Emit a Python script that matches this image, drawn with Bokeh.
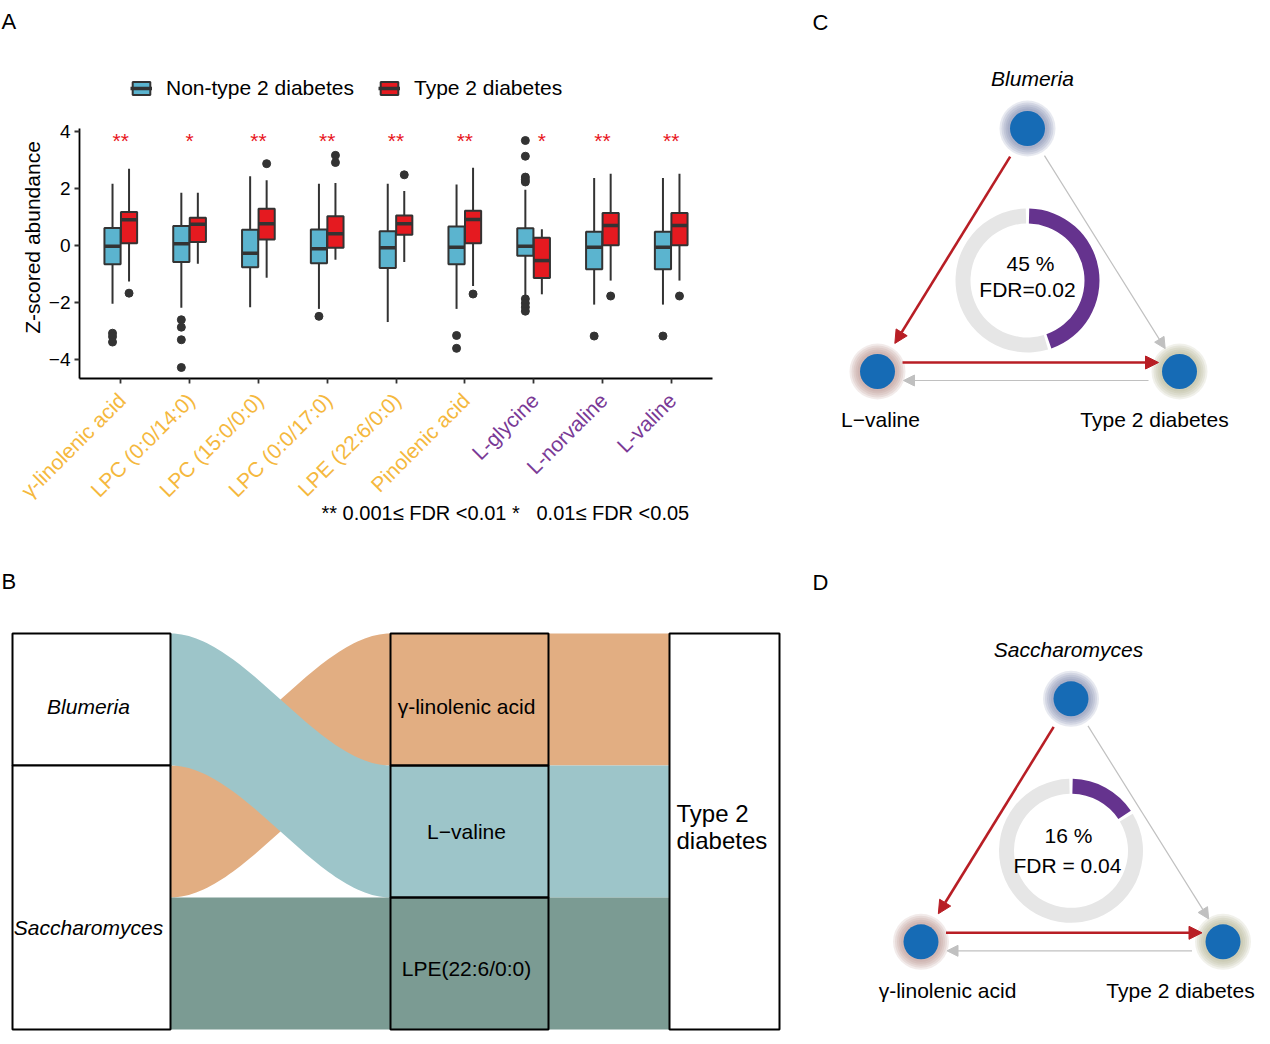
import math
from bokeh.plotting import figure
from bokeh.models import (Range1d, FixedTicker, Label, LabelSet, ColumnDataSource,
                          Legend, LegendItem, Arrow, NormalHead, LinearAxis)
from bokeh.layouts import row, column
from bokeh.embed import file_html
from bokeh.resources import INLINE
from bokeh.core.properties import value

FONT = "Liberation Sans"

# ---------------- Panel A data ----------------
metabolites = ["γ-linolenic acid", "LPC (0:0/14:0)", "LPC (15:0/0:0)", "LPC (0:0/17:0)",
               "LPE (22:6/0:0)", "Pinolenic acid", "L-glycine", "L-norvaline", "L-valine"]
metabolite_class = ["lipid"] * 6 + ["amino acid"] * 3
stars = ["**", "*", "**", "**", "**", "**", "*", "**", "**"]

non_lo  = [-2.04, -2.18, -2.16, -2.22, -2.68, -2.22, -1.81, -2.07, -2.07]
non_q1  = [-0.66, -0.58, -0.76, -0.62, -0.79, -0.66, -0.36, -0.83, -0.83]
non_med = [-0.03,  0.06, -0.27, -0.12, -0.08, -0.06, -0.03, -0.06, -0.06]
non_q3  = [ 0.61,  0.68,  0.55,  0.56,  0.50,  0.66,  0.60,  0.48,  0.48]
non_hi  = [ 2.16,  1.84,  2.42,  2.16,  2.16,  2.13,  1.95,  2.36,  2.36]

t2d_lo  = [-1.26, -0.64, -1.13, -0.50, -0.58, -1.42, -1.71, -1.23, -1.23]
t2d_q1  = [ 0.08,  0.12,  0.21, -0.08,  0.37,  0.08, -1.14,  0.01,  0.01]
t2d_med = [ 0.90,  0.74,  0.76,  0.41,  0.76,  0.91, -0.53,  0.70,  0.70]
t2d_q3  = [ 1.17,  0.97,  1.28,  1.02,  1.05,  1.21,  0.27,  1.13,  1.13]
t2d_hi  = [ 2.68,  1.84,  2.28,  2.18,  1.90,  2.72,  0.57,  2.51,  2.51]

non_out_cat = [1, 1, 1, 2, 2, 2, 2, 4, 6, 6, 7, 7, 7, 7, 7, 7, 7, 7, 7, 8, 9]
non_out_val = [-3.07, -3.19, -3.38, -2.60, -2.86, -3.30, -4.27, -2.48, -3.15, -3.60,
               3.67, 3.12, 2.39, 2.30, 2.22, -1.87, -2.02, -2.16, -2.30, -3.17, -3.17]
t2d_out_cat = [1, 3, 4, 4, 5, 6, 8, 9]
t2d_out_val = [-1.67, 2.86, 3.15, 2.90, 2.47, -1.70, -1.77, -1.77]

groups = ["Non-type 2 diabetes", "Type 2 diabetes"]
y_ticks = [-4, -2, 0, 2, 4]
fdr_note = "**\u00a00.001≤ FDR <0.01 *\u00a0\u00a0\u00a00.01≤ FDR <0.05"

# ---------------- Panel B data ----------------
taxa = ["Blumeria", "Saccharomyces"]
mets_b = ["γ-linolenic acid", "L−valine", "LPE(22:6/0:0)"]
flow_src = ["Saccharomyces", "Blumeria", "Saccharomyces"]
flow_dst = ["γ-linolenic acid", "L−valine", "LPE(22:6/0:0)"]
flow_val = [1, 1, 1]
outcome_b = ["Type 2", "diabetes"]

# ---------------- Panels C / D data ----------------
c_nodes = ["Blumeria", "L−valine", "Type 2 diabetes"]
c_mediation = 0.45
c_texts = ["45 %", "FDR=0.02"]
d_nodes = ["Saccharomyces", "γ-linolenic acid", "Type 2 diabetes"]
d_mediation = 0.16
d_texts = ["16 %", "FDR = 0.04"]

# ---------------- styles ----------------
BLUE = "#5BB4CF"
RED = "#E51A20"
DARK = "#333333"
STAR_RED = "#E8161E"
LIPID_COL = "#F5B83D"
AMINO_COL = "#7A3A96"
FLOW_COL = {"γ-linolenic acid": "#E2AE82", "L−valine": "#9DC5C9", "LPE(22:6/0:0)": "#7B9B93"}
NODE_BLUE = "#166BB5"
ARROW_RED = "#B81E25"
ARROW_GRAY = "#C0C0C0"
RING_GRAY = "#E6E6E6"
RING_PURPLE = "#65338E"


def clean(p):
    p.outline_line_color = None
    p.background_fill_color = "white"
    p.border_fill_color = "white"


# =============== Panel A ===============
XR = (0.4, 9.6)
YR = (-4.655, 4.09)
PX0, PY0 = 79, 128            # page px of the (XR[0], YR[1]) corner
SX = 633 / (XR[1] - XR[0])   # px per unit
SY = 250 / (YR[1] - YR[0])
WA, HA = 808, 568


def ax(px):
    return XR[0] + (px - PX0) / SX


def ay(py):
    return YR[1] - (py - PY0) / SY


pA = figure(width=WA, height=HA, x_range=Range1d(ax(0), ax(WA)), y_range=Range1d(ay(HA), ay(0)),
            output_backend="svg", toolbar_location=None, min_border=0,
            x_axis_location=None, y_axis_location=None, frame_align=False)
clean(pA)
pA.xgrid.visible = False
pA.ygrid.visible = False

cats = list(range(1, len(metabolites) + 1))
xaxis = LinearAxis(fixed_location=YR[0], bounds=XR, ticker=FixedTicker(ticks=cats),
                   major_label_overrides={c: "" for c in cats})
yaxis = LinearAxis(fixed_location=XR[0], bounds=YR, ticker=FixedTicker(ticks=y_ticks),
                   major_label_overrides={t: (str(t).replace("-", "−")) for t in y_ticks})
for a in (xaxis, yaxis):
    a.axis_line_width = 1.8
    a.axis_line_color = "black"
    a.major_tick_line_width = 1.8
    a.major_tick_line_color = DARK
    a.major_tick_out = 5
    a.major_tick_in = 0
    a.minor_tick_line_color = None
    a.major_label_text_font = FONT
    a.major_label_text_font_size = "19px"
    a.major_label_text_color = "black"
    a.major_label_standoff = 4
pA.add_layout(xaxis, "below")
pA.add_layout(yaxis, "left")

BW = 0.235
DODGE = 0.12
box_renderers = []
for gi, (lo, q1, med, q3, hi, fill) in enumerate([
        (non_lo, non_q1, non_med, non_q3, non_hi, BLUE),
        (t2d_lo, t2d_q1, t2d_med, t2d_q3, t2d_hi, RED)]):
    xs = [c + (DODGE if gi else -DODGE) for c in cats]
    src = ColumnDataSource(dict(x=xs, lo=lo, q1=q1, med=med, q3=q3, hi=hi,
                                xl=[x - BW / 2 for x in xs], xr=[x + BW / 2 for x in xs]))
    pA.segment(x0="x", y0="q3", x1="x", y1="hi", source=src, line_color=DARK, line_width=2)
    pA.segment(x0="x", y0="q1", x1="x", y1="lo", source=src, line_color=DARK, line_width=2)
    rb = pA.vbar(x="x", bottom="q1", top="q3", width=BW, source=src,
                 fill_color=fill, line_color=DARK, line_width=2)
    rm = pA.segment(x0="xl", y0="med", x1="xr", y1="med", source=src,
                    line_color=DARK, line_width=3.5)
    box_renderers.append([rb, rm])

pA.scatter(x=[c - DODGE for c in non_out_cat], y=non_out_val, size=8, color=DARK)
pA.scatter(x=[c + DODGE for c in t2d_out_cat], y=t2d_out_val, size=8, color=DARK)

star_x = [c + (DODGE if s == "*" and metabolite_class[c - 1] == "amino acid" else 0)
          for c, s in zip(cats, stars)]
pA.text(x=star_x, y=[3.66] * len(cats), text=stars, text_color=STAR_RED,
        text_font=value(FONT), text_font_size="21px", text_align="center", text_baseline="middle")

lab_src = ColumnDataSource(dict(
    x=[c - 0.1 for c in cats], y=[ay(388)] * len(cats), text=metabolites,
    lab_color=[LIPID_COL if k == "lipid" else AMINO_COL for k in metabolite_class]))
pA.add_layout(LabelSet(x="x", y="y", text="text", source=lab_src, angle=math.pi / 4,
                       text_align="right", text_baseline="top", text_color="lab_color",
                       text_font=value(FONT), text_font_size=value("21px")))

pA.add_layout(Label(x=ax(32), y=ay(237), text="Z-scored abundance", angle=math.pi / 2,
                    text_align="center", text_baseline="middle", text_font=FONT,
                    text_font_size="21px", text_color="black"))
pA.add_layout(Label(x=ax(321), y=ay(512), text=fdr_note, text_align="left",
                    text_baseline="middle", text_font=FONT, text_font_size="20px",
                    text_color="black"))
pA.add_layout(Label(x=ax(1), y=ay(21), text="A", text_align="left", text_baseline="middle",
                    text_font=FONT, text_font_size="22px", text_color="black"))

legend = Legend(items=[LegendItem(label=groups[0], renderers=box_renderers[0]),
                       LegendItem(label=groups[1], renderers=box_renderers[1])],
                orientation="horizontal", location=(130, HA - 100), padding=0, margin=0,
                spacing=24, label_standoff=14, glyph_width=22, glyph_height=16,
                label_height=24, label_text_font=FONT, label_text_font_size="21px",
                label_text_color="black",
                label_text_baseline="middle", border_line_color=None,
                background_fill_alpha=0)
pA.add_layout(legend, "center")

# =============== Panel B ===============
WB, HB = 808, 476
pB = figure(width=WB, height=HB, x_range=Range1d(0, WB), y_range=Range1d(0, HB),
            output_backend="svg", toolbar_location=None, min_border=0, frame_align=False)
clean(pB)
pB.axis.visible = False
pB.grid.visible = False

TOP, UNIT = 411, 132
LX = (12, 170)
MX = (390, 548)
RX = (669, 779)

left_tot = {t: sum(v for s, v in zip(flow_src, flow_val) if s == t) for t in taxa}
mid_tot = {m: sum(v for d, v in zip(flow_dst, flow_val) if d == m) for m in mets_b}
left_pos, cum = {}, 0
for t in taxa:
    left_pos[t] = (TOP - cum * UNIT, TOP - (cum + left_tot[t]) * UNIT)
    cum += left_tot[t]
mid_pos, cum = {}, 0
for m in mets_b:
    mid_pos[m] = (TOP - cum * UNIT, TOP - (cum + mid_tot[m]) * UNIT)
    cum += mid_tot[m]

order = sorted(range(len(flow_val)), key=lambda i: (taxa.index(flow_src[i]), mets_b.index(flow_dst[i])))
lcur = {t: left_pos[t][0] for t in taxa}
fl_left = {}
for i in order:
    a0 = lcur[flow_src[i]]
    fl_left[i] = (a0, a0 - flow_val[i] * UNIT)
    lcur[flow_src[i]] = a0 - flow_val[i] * UNIT
order_m = sorted(range(len(flow_val)), key=lambda i: (mets_b.index(flow_dst[i]), taxa.index(flow_src[i])))
mcur = {m: mid_pos[m][0] for m in mets_b}
fl_mid = {}
for i in order_m:
    b0 = mcur[flow_dst[i]]
    fl_mid[i] = (b0, b0 - flow_val[i] * UNIT)
    mcur[flow_dst[i]] = b0 - flow_val[i] * UNIT


def sig(t):
    return t * t * (3 - 2 * t)


N = 60
for i in range(len(flow_val)):
    (a0, a1), (b0, b1) = fl_left[i], fl_mid[i]
    ts = [k / N for k in range(N + 1)]
    xs = [LX[1] + (MX[0] - LX[1]) * t for t in ts]
    top_e = [a0 + (b0 - a0) * sig(t) for t in ts]
    bot_e = [a1 + (b1 - a1) * sig(t) for t in ts]
    pB.patch(xs + xs[::-1], top_e + bot_e[::-1], fill_color=FLOW_COL[flow_dst[i]],
             line_color=None)

for m in mets_b:
    y0, y1 = mid_pos[m]
    pB.quad(left=MX[0], right=RX[0], top=y0, bottom=y1, fill_color=FLOW_COL[m], line_color=None)

for t in taxa:
    y0, y1 = left_pos[t]
    pB.quad(left=LX[0], right=LX[1], top=y0, bottom=y1, fill_color="white",
            line_color="black", line_width=2)
for m in mets_b:
    y0, y1 = mid_pos[m]
    pB.quad(left=MX[0], right=MX[1], top=y0, bottom=y1, fill_alpha=0,
            line_color="black", line_width=2)
pB.quad(left=RX[0], right=RX[1], top=TOP, bottom=TOP - sum(flow_val) * UNIT,
        fill_color="white", line_color="black", line_width=2)

left_dy = [-7, -30]
mid_dy = [-7, 0, -5]
pB.text(x=[(LX[0] + LX[1]) / 2 - 3] * len(taxa),
        y=[(left_pos[t][0] + left_pos[t][1]) / 2 + d for t, d in zip(taxa, left_dy)],
        text=taxa, text_font=value(FONT), text_font_size="21px", text_font_style="italic",
        text_align="center", text_baseline="middle", text_color="black")
pB.text(x=[(MX[0] + MX[1]) / 2 - 3] * len(mets_b),
        y=[(mid_pos[m][0] + mid_pos[m][1]) / 2 + d for m, d in zip(mets_b, mid_dy)],
        text=mets_b, text_font=value(FONT), text_font_size="21px",
        text_align="center", text_baseline="middle", text_color="black")
pB.text(x=[RX[0] + 7] * 2, y=[231, 204], text=outcome_b, text_font=value(FONT),
        text_font_size="24px", text_align="left", text_baseline="middle", text_color="black")
pB.add_layout(Label(x=1, y=463, text="B", text_align="left", text_baseline="middle",
                    text_font=FONT, text_font_size="22px", text_color="black"))


# =============== Panels C / D ===============
def triad(W, H, letter, letter_xy, top, names, name_xy, frac, texts, text_xy):
    p = figure(width=W, height=H, x_range=Range1d(0, W), y_range=Range1d(0, H),
               output_backend="svg", toolbar_location=None, min_border=0, frame_align=False)
    clean(p)
    p.axis.visible = False
    p.grid.visible = False
    tx, ty = top
    nodes = [(tx, ty), (tx - 150, ty - 243), (tx + 152, ty - 243)]
    cx, cy = tx, ty - 152
    gap = 0.024
    p.annular_wedge(x=cx, y=cy, inner_radius=57, outer_radius=72,
                    start_angle=math.pi / 2 - 2 * math.pi * frac - gap,
                    end_angle=math.pi / 2 + gap, direction="clock",
                    fill_color=RING_GRAY, line_color=None)
    p.annular_wedge(x=cx, y=cy, inner_radius=57, outer_radius=72,
                    start_angle=math.pi / 2 - gap,
                    end_angle=math.pi / 2 - 2 * math.pi * frac + gap, direction="clock",
                    fill_color=RING_PURPLE, line_color=None)
    halos = ["#6E7FA8", "#B08680", "#ADAA86"]
    for (nx, ny), hc in zip(nodes, halos):
        for r in (28, 26, 24, 22, 20):
            p.circle(x=nx, y=ny, radius=r, fill_color=hc, fill_alpha=0.17, line_color=None)
        p.circle(x=nx, y=ny, radius=17.5, fill_color=NODE_BLUE, line_color=None)
    edges = [(0, 1, ARROW_RED, 2.6, 13, 33, 33, 0), (0, 2, ARROW_GRAY, 1.2, 11, 32, 27, 0),
             (1, 2, ARROW_RED, 2.6, 13, 25, 21, 9), (2, 1, ARROW_GRAY, 1.2, 11, 31, 26, 9)]
    for a, b, col, lw, hs, s0, s1, off in edges:
        (x0, y0), (x1, y1) = nodes[a], nodes[b]
        L = math.hypot(x1 - x0, y1 - y0)
        ux, uy = (x1 - x0) / L, (y1 - y0) / L
        nx_, ny_ = -uy, ux
        p.add_layout(Arrow(end=NormalHead(size=hs, fill_color=col, line_color=col),
                           x_start=x0 + ux * s0 + nx_ * off, y_start=y0 + uy * s0 + ny_ * off,
                           x_end=x1 - ux * s1 + nx_ * off, y_end=y1 - uy * s1 + ny_ * off,
                           line_color=col, line_width=lw))
    for k, (name, (lx, ly)) in enumerate(zip(names, name_xy)):
        p.text(x=[lx], y=[ly], text=[name], text_font=value(FONT), text_font_size="21px",
               text_font_style="italic" if k == 0 else "normal",
               text_align="center", text_baseline="middle", text_color="black")
    for t, (lx, ly) in zip(texts, text_xy):
        p.text(x=[lx], y=[ly], text=[t], text_font=value(FONT), text_font_size="21px",
               text_align="center", text_baseline="middle", text_color="black")
    p.add_layout(Label(x=letter_xy[0], y=letter_xy[1], text=letter, text_align="left",
                       text_baseline="middle", text_font=FONT, text_font_size="22px",
                       text_color="black"))
    return p


pC = triad(462, 568, "C", (4, 546), (219, 440), c_nodes,
           [(224, 490), (72, 149), (346, 149)], c_mediation, c_texts,
           [(222, 305), (219, 279)])
pD = triad(462, 476, "D", (4, 462), (262.5, 345.7), d_nodes,
           [(260, 395), (139, 54), (372, 54)], d_mediation, d_texts,
           [(260, 209), (259, 179)])

layout = column(row(pA, pC), row(pB, pD))
open("out.html", "w").write(file_html(layout, INLINE))
